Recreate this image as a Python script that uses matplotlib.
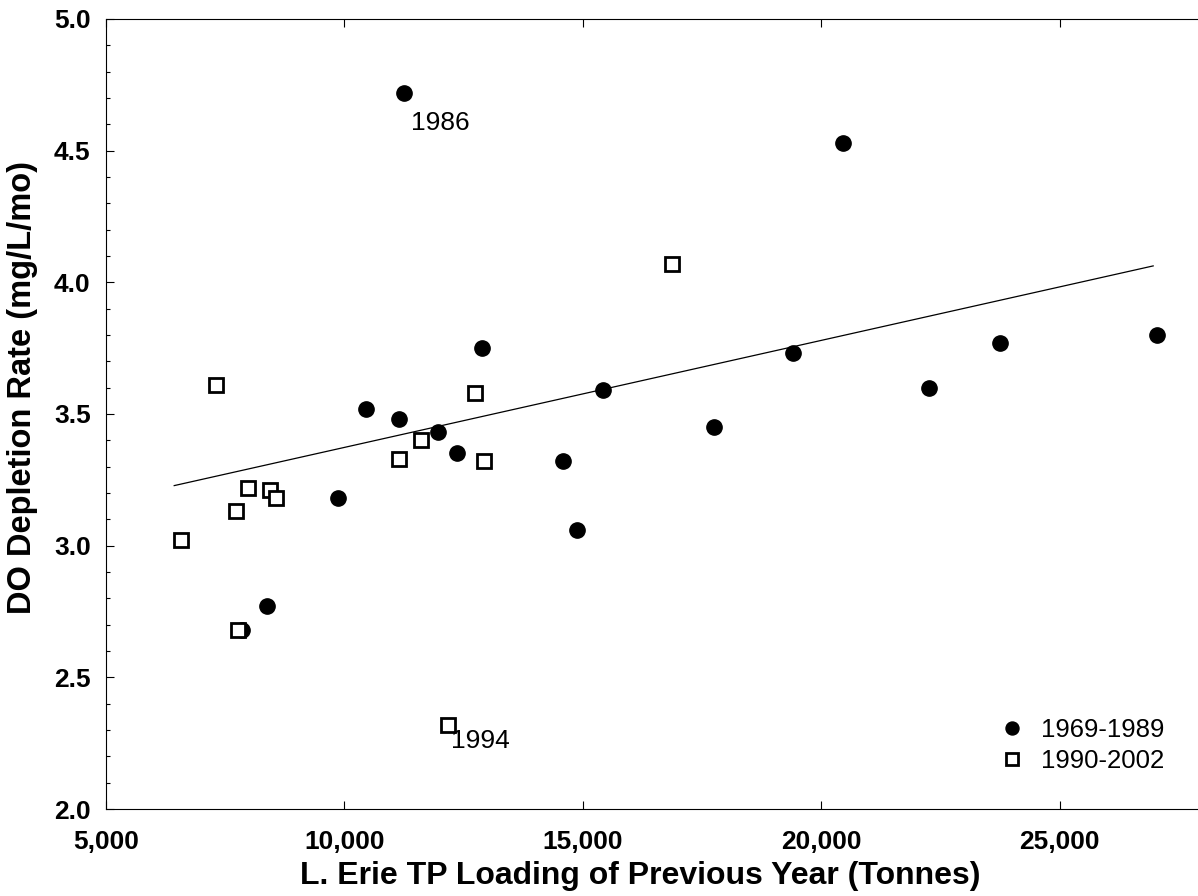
import matplotlib
matplotlib.use("Agg")

import matplotlib.pyplot as plt
import numpy as np
from matplotlib.ticker import FuncFormatter, MultipleLocator

plt.rcParams["font.family"] = ["Liberation Sans", "DejaVu Sans"]

# 1969-1989 (filled circles)
load_early = [11250, 20460, 12890, 10455, 11135, 11960, 12370, 9865, 8380, 7850,
              14590, 14880, 15430, 17755, 19415, 22265, 23755, 27030]
rate_early = [4.72, 4.53, 3.75, 3.52, 3.48, 3.43, 3.35, 3.18, 2.77, 2.68,
              3.32, 3.06, 3.59, 3.45, 3.73, 3.60, 3.77, 3.80]

# 1990-2002 (open squares)
load_late = [7310, 6575, 7725, 7975, 8445, 8565, 7770, 11135, 11600, 12740,
             12935, 16875, 12180]
rate_late = [3.61, 3.02, 3.13, 3.22, 3.21, 3.18, 2.68, 3.33, 3.40, 3.58,
             3.32, 4.07, 2.32]

# regression line as drawn in the figure (end points)
fit_load = [6430, 26960]
fit_rate = [3.228, 4.062]

# labelled years
notes = [("1986", 11250, 4.72), ("1994", 12180, 2.32)]

fig = plt.figure(figsize=(11.98, 8.96), dpi=100)
ax = fig.add_axes([0.0885, 0.097, 0.9115, 0.882])

ax.plot(load_early, rate_early, "o", color="black", markersize=11,
        label="1969-1989", zorder=3)
ax.plot(load_late, rate_late, "s", markerfacecolor="white", markeredgecolor="black",
        markeredgewidth=2, markersize=10, label="1990-2002", zorder=4)
ax.plot(fit_load, fit_rate, color="black", linewidth=0.9, zorder=2)

ax.annotate(notes[0][0], (notes[0][1], notes[0][2]), xytext=(5, -13),
            textcoords="offset points", fontsize=19, va="top", ha="left")
ax.annotate(notes[1][0], (notes[1][1], notes[1][2]), xytext=(2, -3),
            textcoords="offset points", fontsize=19, va="top", ha="left")

ax.set_xlim(5000, 27900)
ax.set_ylim(2.0, 5.0)
ax.xaxis.set_major_locator(MultipleLocator(5000))
ax.yaxis.set_major_locator(MultipleLocator(0.5))
ax.yaxis.set_minor_locator(MultipleLocator(0.1))
ax.xaxis.set_major_formatter(FuncFormatter(lambda v, p: f"{int(v):,}"))
ax.yaxis.set_major_formatter(FuncFormatter(lambda v, p: f"{v:.1f}"))

ax.tick_params(which="both", direction="in", top=True, right=False, width=0.8)
ax.tick_params(which="major", length=6, labelsize=19)
ax.tick_params(axis="x", which="major", pad=15)
ax.tick_params(axis="y", which="major", pad=11)
ax.tick_params(which="minor", length=3)
for lab in ax.get_xticklabels() + ax.get_yticklabels():
    lab.set_fontweight("bold")

ax.spines["right"].set_visible(False)
for s in ["left", "top", "bottom"]:
    ax.spines[s].set_linewidth(0.8)

ax.set_xlabel("L. Erie TP Loading of Previous Year (Tonnes)", fontsize=23,
              fontweight="bold")
ax.set_ylabel("DO Depletion Rate (mg/L/mo)", fontsize=23.5, fontweight="bold")
ax.xaxis.set_label_coords(0.489, -0.066)
ax.yaxis.set_label_coords(-0.062, 0.534)

ax.legend(loc="lower right", bbox_to_anchor=(0.99, 0.016), frameon=False,
          fontsize=18.5, handletextpad=0.6, labelspacing=0.28, handlelength=1.0,
          markerscale=0.85)

fig.savefig("out.png", dpi=100)
